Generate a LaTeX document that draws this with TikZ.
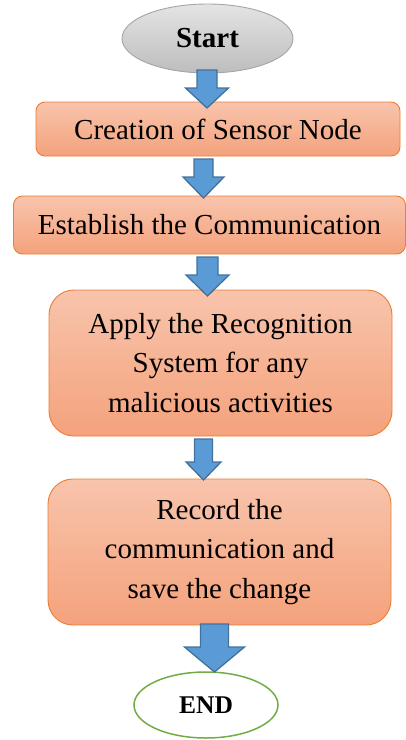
\documentclass[tikz,border=0pt]{standalone}
\usepackage{fontspec}
\setmainfont{Liberation Serif}
\usetikzlibrary{shapes.geometric,calc}
\definecolor{boxtop}{HTML}{F8C4AC}
\definecolor{boxbot}{HTML}{F4A27C}
\definecolor{boxline}{HTML}{ED7D31}
\definecolor{arrfill}{HTML}{5B9BD5}
\definecolor{arrline}{HTML}{41719C}
\definecolor{greytop}{HTML}{E4E4E4}
\definecolor{greybot}{HTML}{BDBDBD}
\definecolor{greyline}{HTML}{A5A5A5}
\definecolor{endline}{HTML}{70AD47}
\tikzset{
  stepbox/.style={rectangle, draw=boxline, line width=0.9pt, top color=boxtop, bottom color=boxbot,
    inner sep=0pt, align=center, font=\fontsize{29}{39.5}\selectfont},
  startell/.style={ellipse, draw=greyline, line width=0.9pt, top color=greytop, bottom color=greybot,
    inner sep=0pt, font=\fontsize{29}{34}\selectfont\bfseries},
  endell/.style={ellipse, draw=endline, line width=1.5pt, fill=white,
    inner sep=0pt, font=\fontsize{25.5}{30}\selectfont\bfseries},
  blockarrow/.style={fill=arrfill, draw=arrline, line width=1.3pt, line join=miter},
}
% #1 start coordinate (top of shaft), #2 tip coordinate, #3 shaft half width, #4 head half width, #5 head length
\newcommand\blkarrow[5]{%
  \draw[blockarrow] let \p1=(#1), \p2=(#2) in
    (\x1-#3pt,\y1) -- (\x1+#3pt,\y1) -- (\x1+#3pt,\y2+#5pt) -- (\x1+#4pt,\y2+#5pt)
    -- (\x2,\y2) -- (\x1-#4pt,\y2+#5pt) -- (\x1-#3pt,\y2+#5pt) -- cycle;}
\begin{document}
\begin{tikzpicture}[x=1pt,y=-1pt]
\useasboundingbox (0,0) rectangle (406,740);
\node[startell, minimum width=171pt, minimum height=69pt] (start) at (207.5,38.5) {\raisebox{-3pt}{Start}};
\node[stepbox, rounded corners=9pt, minimum width=364pt, minimum height=54pt] (b1) at (218,129) {Creation of Sensor Node};
\node[stepbox, rounded corners=9pt, minimum width=392pt, minimum height=58pt] (b2) at (209.5,225) {Establish the Communication};
\node[stepbox, rounded corners=25pt, minimum width=343pt, minimum height=146pt] (b3) at (220.5,363) {Apply the Recognition\\System for any\\malicious activities};
\node[stepbox, rounded corners=25pt, minimum width=343pt, minimum height=146pt] (b4) at (219.5,552) {Record the\\communication and\\save the change};
\node[endell, minimum width=144pt, minimum height=66pt] (end) at (206,705) {\raisebox{-2pt}{END}};
% connectors
\coordinate (a1s) at (207,70);
\coordinate (a1e) at (207,108);
\coordinate (a2s) at (203.5,159);
\coordinate (a2e) at (203.5,198);
\coordinate (a3s) at (207.5,257);
\coordinate (a3e) at (207.5,296);
\coordinate (a4s) at (203.5,439);
\coordinate (a4e) at (203.5,480);
\coordinate (a5s) at (214.5,624);
\coordinate (a5e) at (214.5,672);
\blkarrow{a1s}{a1e}{10}{21.5}{20}
\blkarrow{a2s}{a2e}{9.5}{20.5}{21}
\blkarrow{a3s}{a3e}{10.5}{21.5}{21}
\blkarrow{a4s}{a4e}{9}{17.5}{18}
\blkarrow{a5s}{a5e}{14}{30}{25}
\end{tikzpicture}
\end{document}
